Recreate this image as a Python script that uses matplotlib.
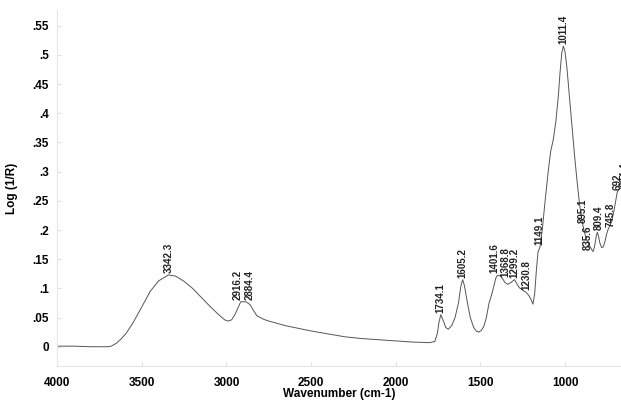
import matplotlib
matplotlib.use('Agg')
import matplotlib.pyplot as plt

plt.rcParams['font.family'] = ['Liberation Sans', 'DejaVu Sans']

# spectrum (wavenumber, log(1/R))
wavenumber = [4000, 3900, 3800, 3700, 3680, 3650, 3620, 3590, 3550, 3510, 3450, 3400,
              3342, 3300, 3250, 3200, 3150, 3100, 3050, 3010, 2990, 2970, 2950, 2930,
              2916, 2884, 2860, 2840, 2820, 2780, 2750, 2700, 2650, 2600, 2500, 2400,
              2300, 2200, 2100, 2000, 1900, 1800, 1770, 1755, 1745, 1734, 1720, 1705,
              1690, 1670, 1650, 1630, 1615, 1605, 1595, 1580, 1560, 1540, 1525, 1510,
              1495, 1480, 1465, 1450, 1435, 1420, 1410, 1401, 1385, 1368, 1355, 1340,
              1320, 1299, 1285, 1270, 1250, 1230, 1215, 1200, 1190, 1180, 1170, 1160,
              1149, 1135, 1120, 1100, 1085, 1070, 1055, 1040, 1030, 1020, 1011, 1002,
              990, 975, 960, 945, 930, 915, 905, 895, 880, 865, 850, 840, 835, 828,
              820, 815, 809, 802, 795, 785, 775, 765, 755, 745, 735, 725, 712, 700,
              692, 682, 670]
absorbance = [0.001, 0.001, 0.0, 0.0, 0.001, 0.006, 0.014, 0.024, 0.042, 0.063, 0.095, 0.113,
              0.123, 0.121, 0.112, 0.100, 0.085, 0.070, 0.056, 0.046, 0.044, 0.046, 0.055, 0.068,
              0.077, 0.077, 0.072, 0.062, 0.053, 0.047, 0.044, 0.040, 0.036, 0.033, 0.027, 0.022,
              0.017, 0.014, 0.012, 0.010, 0.008, 0.007, 0.009, 0.022, 0.042, 0.055, 0.045, 0.033,
              0.030, 0.036, 0.050, 0.075, 0.105, 0.115, 0.105, 0.080, 0.050, 0.033, 0.027, 0.025,
              0.028, 0.035, 0.050, 0.074, 0.088, 0.105, 0.117, 0.122, 0.122, 0.116, 0.110, 0.107,
              0.110, 0.115, 0.108, 0.101, 0.097, 0.093, 0.088, 0.080, 0.073, 0.090, 0.130, 0.163,
              0.170, 0.200, 0.245, 0.300, 0.335, 0.355, 0.385, 0.430, 0.470, 0.503, 0.515, 0.508,
              0.480, 0.430, 0.380, 0.330, 0.285, 0.245, 0.225, 0.208, 0.190, 0.178, 0.170, 0.165,
              0.163, 0.170, 0.182, 0.192, 0.196, 0.188, 0.178, 0.170, 0.171, 0.180, 0.193, 0.202,
              0.208, 0.215, 0.232, 0.252, 0.265, 0.270, 0.272]

peak_pos = [3342.3, 2916.2, 2884.4, 1734.1, 1605.2, 1401.6, 1368.8, 1299.2, 1230.8,
            1149.1, 1011.4, 895.1, 835.6, 809.4, 745.8, 692.0, 676.0]
peak_val = [0.123, 0.077, 0.077, 0.055, 0.115, 0.122, 0.116, 0.115, 0.093,
            0.170, 0.515, 0.208, 0.163, 0.196, 0.202, 0.265, 0.270]
peak_text = ['3342.3', '2916.2', '2884.4', '1734.1', '1605.2', '1401.6', '1368.8', '1299.2',
             '1230.8', '1149.1', '1011.4', '895.1', '835.6', '809.4', '745.8', '692', '664.4']
peak_shift = [0, -2.5, 2.5, 0, 0, -2, 2, 0, 0, 0, 0, 0, -3.5, 0.8, 1.8, 0, 3]

fig = plt.figure(figsize=(6.21, 4.0), dpi=100)
ax = fig.add_axes([0.092, 0.085, 0.908, 0.89])
ax.plot(wavenumber, absorbance, color='#555555', lw=0.7)

for x, y, t, dx in zip(peak_pos, peak_val, peak_text, peak_shift):
    ax.annotate(t, (x, y), xytext=(dx, 1.5), textcoords='offset points',
                rotation=90, ha='center', va='bottom', fontsize=7,
                fontweight='bold', color='#222222')

ax.set_xlim(4000, 670)
ax.set_ylim(-0.033, 0.577)
ax.set_xticks([4000, 3500, 3000, 2500, 2000, 1500, 1000])
ax.set_yticks([0, 0.05, 0.1, 0.15, 0.2, 0.25, 0.3, 0.35, 0.4, 0.45, 0.5, 0.55])
ax.set_yticklabels(['0', '.05', '.1', '.15', '.2', '.25', '.3', '.35', '.4', '.45', '.5', '.55'])
ax.tick_params(direction='in', length=3, color='#e0e0e0', labelsize=8.5)
ax.tick_params(axis='x', pad=8)
ax.tick_params(axis='y', pad=6)
for lab in ax.get_xticklabels() + ax.get_yticklabels():
    lab.set_fontweight('bold')

for s in ['top', 'right']:
    ax.spines[s].set_visible(False)
for s in ['left', 'bottom']:
    ax.spines[s].set_color('#e6e6e6')
    ax.spines[s].set_linewidth(0.8)

ax.set_xlabel('Wavenumber (cm-1)', fontsize=8.5, fontweight='bold', labelpad=-1)
ax.set_ylabel('Log (1/R)', fontsize=8.5, fontweight='bold', labelpad=10)

fig.savefig('out.png', dpi=100)
